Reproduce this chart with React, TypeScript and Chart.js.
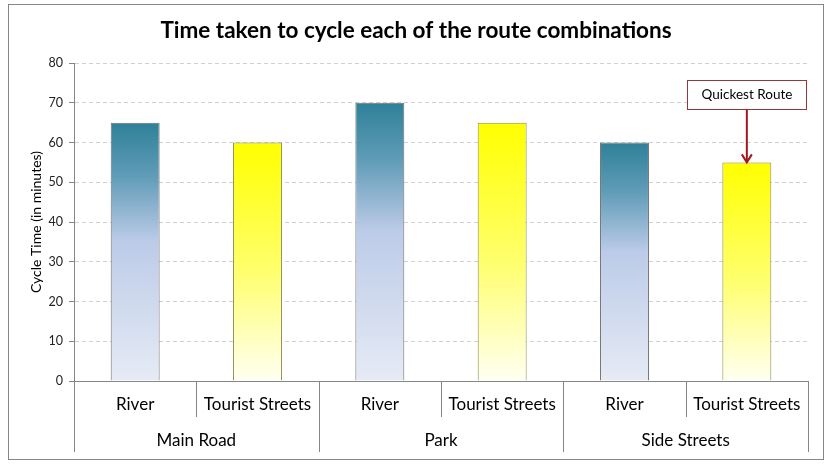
import React, { useEffect, useRef } from "react";
import { Chart, registerables } from "chart.js";

Chart.register(...registerables);

const chartTitle = "Time taken to cycle each of the route combinations";
const yAxisTitle = "Cycle Time (in minutes)";
const groups = ["Main Road", "Park", "Side Streets"];
const routes = ["River", "Tourist Streets"];
const cycleTimes = [65, 60, 70, 65, 60, 55];
const yTicks = { min: 0, max: 80, step: 10 };
const calloutText = "Quickest Route";
const calloutIndex = 5;

const FONT = "Lato, 'Open Sans', sans-serif";
const AXIS_GREY = "#868686";

const categoryLabels = groups.flatMap((g) => routes.map((r) => `${g} - ${r}`));

const overlayPlugin = {
  id: "overlay",
  afterDraw(chart: any) {
    const ctx = chart.ctx;
    const { left, right, top, bottom } = chart.chartArea;
    const xs = chart.scales.x;
    const ys = chart.scales.y;
    const n = cycleTimes.length;
    const catW = (right - left) / n;

    ctx.save();
    ctx.setLineDash([]);
    // outer border
    ctx.strokeStyle = AXIS_GREY;
    ctx.lineWidth = 1;
    ctx.strokeRect(8.5, 4.5, 815, 455);

    // title
    ctx.fillStyle = "#000";
    ctx.font = `bold 22.5px ${FONT}`;
    ctx.textAlign = "center";
    ctx.textBaseline = "middle";
    ctx.fillText(chartTitle, 416, 31);

    // y axis line
    ctx.strokeStyle = AXIS_GREY;
    ctx.beginPath();
    ctx.moveTo(Math.round(left) + 0.5, top);
    ctx.lineTo(Math.round(left) + 0.5, bottom);
    ctx.stroke();

    // x axis line
    ctx.beginPath();
    ctx.moveTo(left, Math.round(bottom) + 0.5);
    ctx.lineTo(right, Math.round(bottom) + 0.5);
    ctx.stroke();

    // category separators
    for (let i = 0; i <= n; i++) {
      const x = Math.round(left + i * catW) + 0.5;
      const len = i % routes.length === 0 ? 71 : 36;
      ctx.beginPath();
      ctx.moveTo(x, bottom);
      ctx.lineTo(x, bottom + len);
      ctx.stroke();
    }

    // labels
    ctx.fillStyle = "#000";
    ctx.font = `17px ${FONT}`;
    ctx.textAlign = "center";
    ctx.textBaseline = "middle";
    for (let i = 0; i < n; i++) {
      const cx = xs.getPixelForValue(i);
      ctx.fillText(routes[i % routes.length], cx, bottom + 24);
    }
    groups.forEach((g, gi) => {
      const x0 = left + gi * routes.length * catW;
      const x1 = x0 + routes.length * catW;
      ctx.fillText(g, (x0 + x1) / 2, bottom + 60);
    });

    // callout
    const tx = xs.getPixelForValue(calloutIndex);
    const ty = ys.getPixelForValue(cycleTimes[calloutIndex]);
    const bw = 119;
    const bh = 29;
    const bx = Math.round(tx - bw / 2) + 0.5;
    const by = Math.round(ty - 82) + 0.5;
    ctx.fillStyle = "#fff";
    ctx.fillRect(bx, by, bw, bh);
    ctx.strokeStyle = "#953735";
    ctx.lineWidth = 1;
    ctx.strokeRect(bx, by, bw, bh);
    ctx.fillStyle = "#000";
    ctx.font = `13.5px ${FONT}`;
    ctx.fillText(calloutText, bx + bw / 2, by + bh / 2);

    ctx.strokeStyle = "#a0171c";
    ctx.lineWidth = 2;
    ctx.beginPath();
    ctx.moveTo(tx, by + bh);
    ctx.lineTo(tx, ty);
    ctx.stroke();
    ctx.beginPath();
    ctx.moveTo(tx - 5, ty - 8);
    ctx.lineTo(tx, ty);
    ctx.lineTo(tx + 5, ty - 8);
    ctx.stroke();
    ctx.restore();
  },
};

export default function App() {
  const ref = useRef<HTMLCanvasElement>(null);

  useEffect(() => {
    document.body.style.margin = "0";
    const canvas = ref.current;
    if (!canvas) return;

    const makeGradient = (context: any) => {
      const chart = context.chart;
      const ys = chart.scales?.y;
      if (!chart.chartArea || !ys) return "#ccc";
      const idx = context.dataIndex;
      const v = cycleTimes[idx];
      const top = ys.getPixelForValue(v);
      const base = ys.getPixelForValue(0);
      const g = chart.ctx.createLinearGradient(0, top, 0, base);
      if (idx % 2 === 0) {
        g.addColorStop(0, "#2f8099");
        g.addColorStop(0.2, "#5e9bb6");
        g.addColorStop(0.46, "#bccbe8");
        g.addColorStop(1, "#e6ebf5");
      } else {
        g.addColorStop(0, "#ffff00");
        g.addColorStop(0.55, "#ffff70");
        g.addColorStop(1, "#fffff2");
      }
      return g;
    };

    const chart = new Chart(canvas, {
      type: "bar",
      data: {
        labels: categoryLabels,
        datasets: [
          {
            data: cycleTimes,
            backgroundColor: makeGradient,
            borderColor: (c: any) => (c.dataIndex % 2 === 0 ? "#6f6f6f" : "#8c8c50"),
            borderWidth: 1,
            borderSkipped: "bottom",
            barPercentage: 0.4,
            categoryPercentage: 1,
          },
        ],
      },
      plugins: [overlayPlugin],
      options: {
        responsive: false,
        animation: false,
        layout: { padding: { top: 63, right: 23, bottom: 86, left: 0 } },
        plugins: {
          legend: { display: false },
          title: { display: false },
          tooltip: { enabled: false },
        },
        scales: {
          x: {
            display: false,
            offset: true,
          },
          y: {
            min: yTicks.min,
            max: yTicks.max,
            afterFit: (s: any) => {
              s.width = 74;
            },
            ticks: {
              stepSize: yTicks.step,
              color: "#222",
              font: { family: FONT, size: 12.5 },
              padding: 6,
            },
            grid: {
              color: "#d0d0d0",
              tickColor: AXIS_GREY,
              tickBorderDash: [],
              tickLength: 5,
            } as any,
            border: { color: AXIS_GREY, dash: [4, 3] } as any,
            title: {
              display: true,
              text: yAxisTitle,
              color: "#000",
              font: { family: FONT, size: 14 },
              padding: { top: 28, bottom: 0 },
            },
          },
        },
      } as any,
    });
    return () => chart.destroy();
  }, []);

  return (
    <div style={{ position: "fixed", left: 0, top: 0, width: 831, height: 467 }}>
      <canvas ref={ref} width={831} height={467} />
    </div>
  );
}
